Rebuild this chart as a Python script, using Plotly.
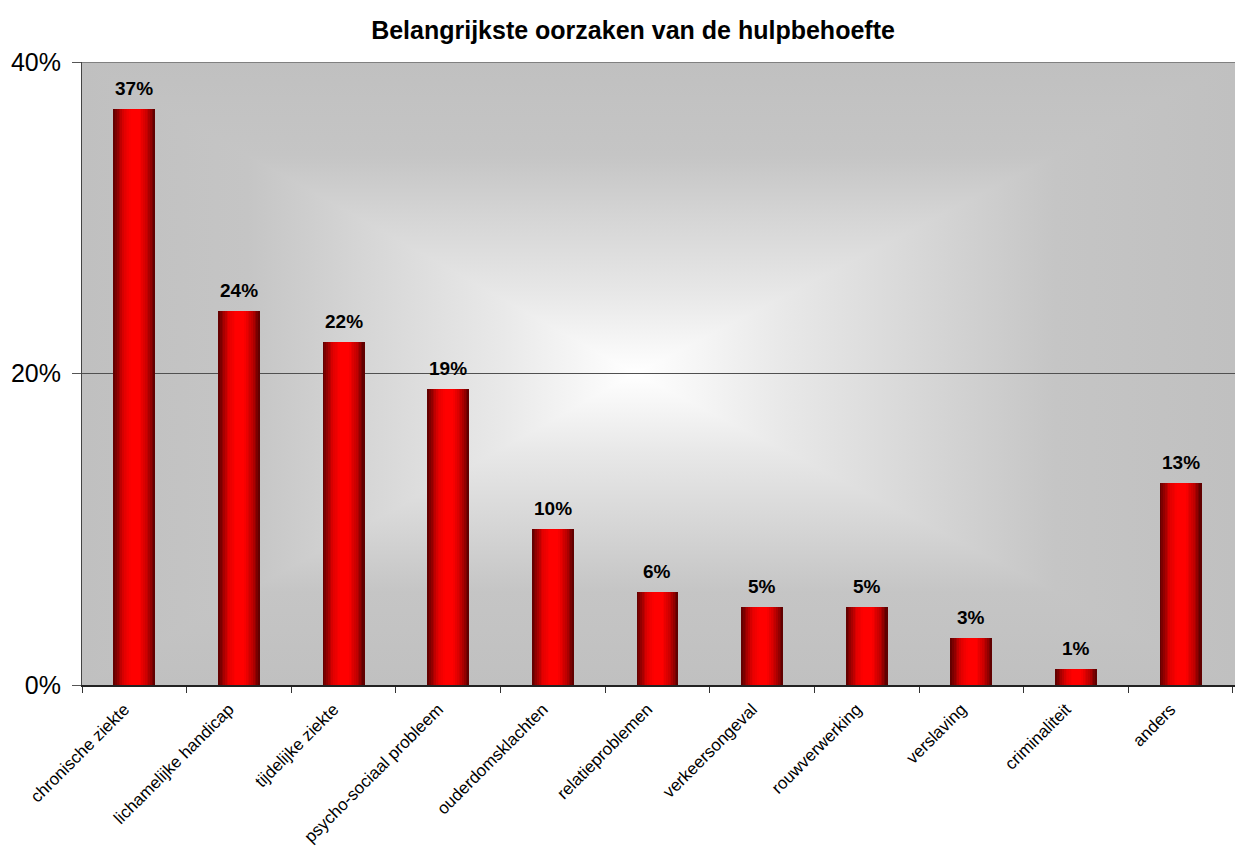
import base64
import plotly.graph_objects as go

categories = ['chronische ziekte', 'lichamelijke handicap', 'tijdelijke ziekte',
              'psycho-sociaal probleem', 'ouderdomsklachten', 'relatieproblemen',
              'verkeersongeval', 'rouwverwerking', 'verslaving', 'criminaliteit', 'anders']
values = [0.37, 0.24, 0.22, 0.19, 0.10, 0.06, 0.05, 0.05, 0.03, 0.01, 0.13]
labels = ['37%', '24%', '22%', '19%', '10%', '6%', '5%', '5%', '3%', '1%', '13%']

FONT = 'Arial, Liberation Sans, sans-serif'

# background: rectangular "from center" gradient, grey edges -> white centre
cx, cy = 48, 50
stops = ''.join('<stop offset="%s" stop-color="%s"/>' % s for s in
                [(0, '#c0c0c0'), (0.3, '#c5c5c5'), (0.5, '#d5d5d5'),
                 (0.75, '#e8e8e8'), (1, '#ffffff')])
svg = f'''<svg xmlns="http://www.w3.org/2000/svg" width="1000" height="1000" viewBox="0 0 100 100" preserveAspectRatio="none">
<defs>
<linearGradient id="t" x1="0" y1="0" x2="0" y2="{cy}" gradientUnits="userSpaceOnUse">{stops}</linearGradient>
<linearGradient id="b" x1="0" y1="100" x2="0" y2="{cy}" gradientUnits="userSpaceOnUse">{stops}</linearGradient>
<linearGradient id="l" x1="0" y1="0" x2="{cx}" y2="0" gradientUnits="userSpaceOnUse">{stops}</linearGradient>
<linearGradient id="r" x1="100" y1="0" x2="{cx}" y2="0" gradientUnits="userSpaceOnUse">{stops}</linearGradient>
</defs>
<polygon points="0,0 0,100 {cx},{cy}" fill="url(#l)" stroke="url(#l)" stroke-width="0.4"/>
<polygon points="100,0 100,100 {cx},{cy}" fill="url(#r)" stroke="url(#r)" stroke-width="0.4"/>
<polygon points="0,0 100,0 {cx},{cy}" fill="url(#t)" stroke="url(#t)" stroke-width="0.2"/>
<polygon points="0,100 100,100 {cx},{cy}" fill="url(#b)" stroke="url(#b)" stroke-width="0.2"/>
</svg>'''
bg_src = 'data:image/svg+xml;base64,' + base64.b64encode(svg.encode()).decode()

# bar shading: dark red at the sides, bright red in the middle
shade = [(0.0, (90, 0, 0)), (0.25, (225, 0, 0)), (0.42, (255, 0, 0)),
         (0.62, (255, 0, 0)), (0.82, (190, 0, 0)), (1.0, (85, 0, 0))]


def shade_at(t):
    for (t0, c0), (t1, c1) in zip(shade, shade[1:]):
        if t0 <= t <= t1:
            f = (t - t0) / (t1 - t0) if t1 > t0 else 0
            return 'rgb(%d,%d,%d)' % tuple(round(a + (b - a) * f) for a, b in zip(c0, c1))
    return 'rgb(%d,%d,%d)' % shade[-1][1]


fig = go.Figure()
BAR_W = 0.4
N = 24
step = BAR_W / N
for i in range(N):
    fig.add_trace(go.Bar(
        x=categories, y=values,
        width=step * 1.6 if i < N - 1 else step, offset=-BAR_W / 2 + i * step,
        marker=dict(color=shade_at((i + 0.5) / N), line=dict(width=0)),
        hoverinfo='skip', showlegend=False,
    ))

for cat, v, lab in zip(categories, values, labels):
    fig.add_annotation(x=cat, y=v, text='<b>%s</b>' % lab, showarrow=False,
                       yanchor='bottom', yshift=8,
                       font=dict(family=FONT, size=19, color='black'))

fig.add_shape(type='line', xref='paper', yref='y', x0=0, x1=1, y0=0.4, y1=0.4,
              line=dict(color='#808080', width=2))

fig.update_layout(
    width=1235, height=849,
    margin=dict(l=82, r=0, t=62, b=164),
    paper_bgcolor='white', plot_bgcolor='rgba(0,0,0,0)',
    barmode='overlay', bargap=0,
    title=dict(text='<b>Belangrijkste oorzaken van de hulpbehoefte</b>',
               x=633 / 1235, xref='container', xanchor='center',
               y=1 - 30 / 849, yref='container', yanchor='middle',
               font=dict(family=FONT, size=25, color='black')),
    font=dict(family=FONT, color='black'),
    images=[dict(source=bg_src, xref='paper', yref='paper', x=0, y=1,
                 sizex=1, sizey=1, sizing='stretch', layer='below')],
    xaxis=dict(type='category', range=[-0.5, 10.52], tickson='boundaries',
               ticks='outside', ticklen=6, tickcolor='#333333',
               showline=True, linecolor='#222222', linewidth=1.5,
               tickangle=-45, tickfont=dict(family=FONT, size=17, color='black'),
               ticklabelshift=-10, ticklabelstandoff=6,
               showgrid=False),
    yaxis=dict(range=[0, 0.4], dtick=0.2, tickformat='.0%',
               ticks='outside', ticklen=9, tickcolor='#555555',
               showline=True, linecolor='#444444', linewidth=1,
               showgrid=True, gridcolor='#505050', gridwidth=1,
               zeroline=False, ticklabelstandoff=6,
               tickfont=dict(family=FONT, size=25, color='black')),
)

fig.write_html("out.html", config={'displayModeBar': False},
               post_script="document.body.style.margin='0';")
